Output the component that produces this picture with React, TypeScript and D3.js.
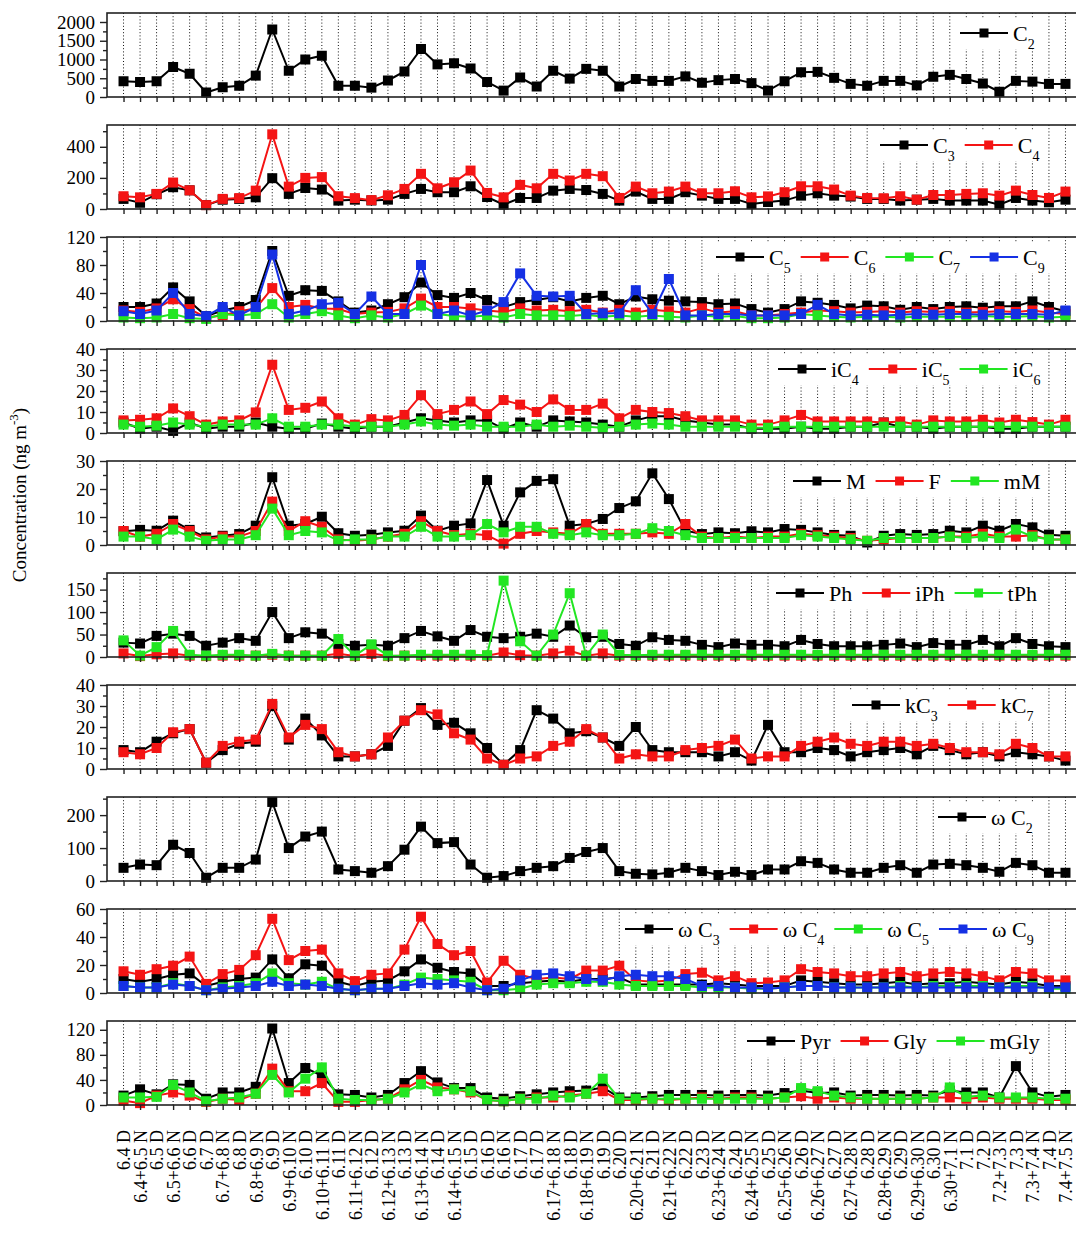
import React, { useRef, useEffect } from "react";
import * as d3 from "d3";

// sampling periods (D = day, N = night)
const categories = [
  "6.4 D", "6.4+6.5 N", "6.5 D", "6.5+6.6 N", "6.6 D", "6.7 D", "6.7+6.8 N", "6.8 D",
  "6.8+6.9 N", "6.9 D", "6.9+6.10 N", "6.10 D", "6.10+6.11 N", "6.11 D", "6.11+6.12 N",
  "6.12 D", "6.12+6.13 N", "6.13 D", "6.13+6.14 N", "6.14 D", "6.14+6.15 N", "6.15 D",
  "6.16 D", "6.16 N", "6.17 D", "6.17 D", "6.17+6.18 N", "6.18 D", "6.18+6.19 N", "6.19 D",
  "6.20 D", "6.20+6.21 N", "6.21 D", "6.21+6.22 N", "6.22 D", "6.23 D", "6.23+6.24 N",
  "6.24 D", "6.24+6.25 N", "6.25 D", "6.25+6.26 N", "6.26 D", "6.26+6.27 N", "6.27 D",
  "6.27+6.28 N", "6.28 D", "6.28+6.29 N", "6.29 D", "6.29+6.30 N", "6.30 D", "6.30+7.1 N",
  "7.1 D", "7.2 D", "7.2+7.3 N", "7.3 D", "7.3+7.4 N", "7.4 D", "7.4+7.5 N",
];

// panel 1
const c2 = [420,400,420,800,620,120,260,300,570,1800,700,1000,1100,300,300,250,440,680,1280,870,900,760,400,170,520,280,700,490,750,700,280,480,430,430,550,380,450,480,370,170,420,660,670,510,350,300,430,430,310,540,590,480,360,140,430,410,350,350];
// panel 2
const c3 = [65,40,95,140,120,25,60,65,75,198,97,135,125,54,60,55,60,97,129,108,108,146,77,28,71,71,118,129,122,97,54,112,65,65,108,86,65,65,32,45,54,86,101,86,80,65,65,54,60,65,54,54,54,28,71,54,43,60];
const c4 = [82,75,97,170,120,25,65,70,118,480,144,200,205,82,70,57,88,129,226,133,172,247,103,75,155,133,226,183,226,211,71,144,101,112,144,101,101,114,75,81,108,146,146,125,86,71,69,82,60,90,90,97,101,86,118,90,71,112];
// panel 3
const c5 = [20,20,25,48,28,7,15,20,30,100,36,44,43,28,12,15,24,34,55,37,33,40,30,20,27,30,34,28,33,36,24,35,31,29,28,27,24,25,17,12,17,28,26,23,18,22,21,16,20,17,20,21,19,21,21,28,20,14];
const c6 = [15,13,18,31,17,5,8,14,18,47,20,23,18,17,10,12,13,18,32,20,20,18,15,13,18,15,16,14,16,12,16,12,16,14,12,18,12,14,8,8,10,12,15,14,12,13,14,12,14,13,14,12,13,14,13,15,12,10];
const c7 = [5,4,5,10,4,3,10,8,10,24,5,10,14,8,4,8,5,10,22,10,7,6,8,5,10,8,8,7,9,6,8,6,8,6,5,8,6,7,4,4,5,10,8,6,5,6,6,5,6,6,6,6,7,6,6,7,5,6];
const c9 = [14,10,15,40,10,7,20,8,20,95,10,15,24,26,10,35,10,10,80,10,15,8,15,27,68,36,35,36,10,11,11,44,10,60,8,8,10,10,8,8,8,10,23,10,8,9,8,9,10,9,10,10,9,10,10,10,9,15];
// panel 4
const ic4 = [5,2,3,1,5,2,3,3,5,3,2,2,4.5,3,2,3,3,5,7,6,5,6,6,2,5,3,6,5.5,5,4,3,6,8,8,6,5,4,4,2,2,2,3,2,2,3,3,5,3,3,2,3,3,3,2,2,3,3,3];
const ic5 = [6,6.3,7,11.7,8,4,5.5,6,9.8,32.5,11,12,15,7,4,6.6,6,8.6,18,9,11,15,9,15.7,13.5,10,16,11,11,14,7,11,10,9.5,8,6,6,6,4,4,6,8.6,5.5,5.5,5.5,5.5,5,5.5,4,6,5.5,5.5,6.3,5,6.3,5.2,4,6.3];
const ic6 = [4,3,3.5,5,4,3,4,4,4,7,3,3,4,4,3,3,3,4,5.5,4,3.5,4,3,3,3,4,3,3.5,3,2.5,3,4,4.5,4,3,3,3,3,2.5,2.5,3,3,3,3,3,3,3,3,3,3,3,3,3,3,3,3,3,3];
// panel 5
const mAcid = [4.9,5.4,5.1,8.7,5.4,2.7,3.3,3.9,6.9,24.2,6.9,7.5,10.1,4.2,3.3,3.7,4.5,5.1,10.5,5.1,6.9,7.7,23.2,6.9,18.8,22.9,23.5,6.9,7.5,9.3,13.2,15.6,25.6,16.4,5.1,3.9,4.5,4.2,4.9,4.5,5.7,5.4,4.5,3.6,3.3,0.9,3.3,3.9,3.6,3.9,5.1,4.5,6.9,5.1,7.5,6.3,3.7,3.3];
const fAcid = [5,3,4,7.5,5,2,3,3,5,15.5,5,8.5,6.5,2,1.5,2,3,4,8.5,5,3.5,4,3.5,0.5,4,5,4.5,4,7.5,4,4,4,4.5,4,7.5,3,2.5,3,2.5,3,3,4,3.5,3,2.5,1.5,2,2.5,2.5,2.5,3,3,4,3,3,3.5,2,2];
const mmAcid = [3,3,2,5.5,3,1.5,2,2,3.5,13,3.5,5,4.5,1.5,2,2,3,3,6.5,3,3,3.5,7.5,4.5,6.5,6.5,4,3.5,4.5,3.5,3.5,4,6,5,3.5,2.5,2.5,2.5,2.5,2.5,2.5,3.5,3,2.5,2,1.5,2.5,2.5,2.5,2.5,3,2.5,3,2.5,5.5,3,2,2];
// panel 6
const ph = [32,30,47,52,47,25,32,42,36,100,42,55,52,29,25,27,25,42,58,46,36,60,45,42,45,52,45,70,44,45,29,25,44,38,36,27,22,30,27,27,24,38,29,24,24,24,27,30,22,31,27,27,38,24,42,29,24,22];
const iph = [8,2,6,8,3,2,3,3,3,5,3,3,3,7,2,7,2,3,3,3,3,3,3,10,4,3,8,14,3,8,3,3,3,3,3,3,3,3,3,3,3,3,3,3,3,3,3,3,3,3,3,3,3,3,3,3,3,3];
const tph = [37,3,22,58,5,3,5,5,3,7,3,3,3,40,3,28,3,3,5,5,5,5,4,170,35,3,50,142,3,50,5,4,5,5,5,5,5,5,5,5,5,5,5,5,5,5,5,5,5,5,5,5,5,5,5,5,5,5];
// panel 7
const kc3 = [9,8,13,17,19,3,9,12,13,30,14,24,16,6,6,7,11,23,29,21,22,17,10,2,9,28,24,17,18,15,11,20,9,8,8,8,6,8,4,21,8,8,10,9,6,8,9,10,7,11,9,7,8,6,8,7,6,4];
const kc7 = [8,7,10,17.5,19,3,11,13,14,31,15,21,19,8,6,7,15,23,28,26,17,14,5,2,5,6,11,13,19,15,5,7,6,6,9,10,11,14,5,6,6,11,13,15,12,11,13,13,11,12,10,8,8,7,12,10,6,6];
// panel 8
const wc2 = [40,50,48,110,85,10,40,40,65,240,100,135,150,35,30,25,45,95,165,115,118,50,10,15,30,40,45,70,88,100,30,22,20,25,40,30,18,28,18,35,35,60,55,35,25,25,40,48,25,50,52,48,40,28,55,48,25,25];
// panel 9
const wc3 = [10,8,10,13,14,5,8,10,11,24,10.5,20.5,19.5,8,5,8,9,15.5,24,18,15,14,5,5,7,8,9,8,10,10,11,6,6,6,6,6,7,6,5,5,5,9,8,7,6,6,7,8,6,7,7,8,7,6,8,7,5,5];
const wc4 = [15.5,13,17,19.5,26,6.5,13.5,16.5,27,53,23.5,30,31,14,8.5,13,14,31,54.5,35,27,30,7.5,23,13,10,11,10,16,16,19.5,9,8,9,13.5,14.5,9,12,7,7.5,9,17,15,14,12,12,14,15,12,14,15,14,12,9,15,14,9,9];
const wc5 = [5,4,4,7,5,2,4,5,7,14,7,6,8,3,2,3,3,6,11,10,9,8,2,2,3,6,7,7,8,8,6,5,5,5,5,4,4,4,3,3,4,5,5,4,4,4,4,5,4,5,5,5,5,4,5,5,3,3];
const wc9 = [5,4,4,6,5,2,3,4,5,8,5,6,5,3,2,3,3,5,7,6,7,4,2,3,9,13,14,12,10,9,12,13,12,12,10,5,5,4,4,3,4,5,5,4,4,4,4,4,4,4,4,4,4,4,4,4,4,4];
// panel 10
const pyr = [15,25,17,33,32,10,20,20,29,122,35,59,47,17,16,12,16,35,54,36,27,27,12,10,14,17,20,22,23,28,12,12,14,16,16,16,15,16,16,15,19,23,19,20,15,16,16,15,16,15,23,20,20,12,62,20,13,16];
const gly = [7,3,15,20,15,5,10,8,18,58,22,22,35,5,5,8,10,25,40,28,25,20,8,6,10,12,12,15,18,22,8,8,10,8,10,12,10,12,12,10,12,14,10,12,10,10,10,10,10,12,12,10,12,10,10,10,8,8];
const mgly = [12,12,13,32,20,6,10,12,18,48,20,42,60,10,8,8,10,20,33,22,25,22,8,6,10,10,15,12,18,42,10,10,10,10,10,10,10,10,10,10,12,27,22,15,12,10,10,10,10,12,28,13,15,12,12,12,10,10];

// y tick labels per panel
const ticks1 = [0, 500, 1000, 1500, 2000];
const ticks2 = [0, 200, 400];
const ticks3 = [0, 40, 80, 120];
const ticks4 = [0, 10, 20, 30, 40];
const ticks5 = [0, 10, 20, 30];
const ticks6 = [0, 50, 100, 150];
const ticks7 = [0, 10, 20, 30, 40];
const ticks8 = [0, 100, 200];
const ticks9 = [0, 20, 40, 60];
const ticks10 = [0, 40, 80, 120];

const BLACK = "#000000";
const RED = "#f41414";
const GREEN = "#22e622";
const BLUE = "#1530e4";
const FONT = "'Liberation Serif', 'Times New Roman', serif";

const panels = [
  { max: 2240, ticks: ticks1, minor: 250, legendX: 960, series: [
    { label: "C", sub: "2", color: BLACK, values: c2 }] },
  { max: 540, ticks: ticks2, minor: 100, legendX: 880, series: [
    { label: "C", sub: "3", color: BLACK, values: c3 },
    { label: "C", sub: "4", color: RED, values: c4 }] },
  { max: 120, ticks: ticks3, minor: 20, legendX: 716, series: [
    { label: "C", sub: "5", color: BLACK, values: c5 },
    { label: "C", sub: "6", color: RED, values: c6 },
    { label: "C", sub: "7", color: GREEN, values: c7 },
    { label: "C", sub: "9", color: BLUE, values: c9 }] },
  { max: 40, ticks: ticks4, minor: 5, legendX: 778, series: [
    { label: "iC", sub: "4", color: BLACK, values: ic4 },
    { label: "iC", sub: "5", color: RED, values: ic5 },
    { label: "iC", sub: "6", color: GREEN, values: ic6 }] },
  { max: 30, ticks: ticks5, minor: 5, legendX: 793, series: [
    { label: "M", sub: "", color: BLACK, values: mAcid },
    { label: "F", sub: "", color: RED, values: fAcid },
    { label: "mM", sub: "", color: GREEN, values: mmAcid }] },
  { max: 187, ticks: ticks6, minor: 25, legendX: 776, series: [
    { label: "Ph", sub: "", color: BLACK, values: ph },
    { label: "iPh", sub: "", color: RED, values: iph },
    { label: "tPh", sub: "", color: GREEN, values: tph }] },
  { max: 40, ticks: ticks7, minor: 5, legendX: 852, series: [
    { label: "kC", sub: "3", color: BLACK, values: kc3 },
    { label: "kC", sub: "7", color: RED, values: kc7 }] },
  { max: 255, ticks: ticks8, minor: 50, legendX: 938, series: [
    { label: "ω C", sub: "2", color: BLACK, values: wc2 }] },
  { max: 60, ticks: ticks9, minor: 10, legendX: 625, series: [
    { label: "ω C", sub: "3", color: BLACK, values: wc3 },
    { label: "ω C", sub: "4", color: RED, values: wc4 },
    { label: "ω C", sub: "5", color: GREEN, values: wc5 },
    { label: "ω C", sub: "9", color: BLUE, values: wc9 }] },
  { max: 134, ticks: ticks10, minor: 20, legendX: 747, series: [
    { label: "Pyr", sub: "", color: BLACK, values: pyr },
    { label: "Gly", sub: "", color: RED, values: gly },
    { label: "mGly", sub: "", color: GREEN, values: mgly }] },
];

const App = () => {
  const svgRef = useRef<SVGSVGElement>(null);

  useEffect(() => {
    const svg = d3.select(svgRef.current);
    svg.selectAll("*").remove();

    const left = 107;
    const right = 1082;
    const firstTop = 13;
    const panelStep = 112;
    const panelH = 84;

    // index based, because "6.17 D" appears twice in the sample list
    const idx = d3.range(categories.length);
    const x = d3.scalePoint<number>().domain(idx).range([left, right]).padding(1);

    panels.forEach((p, k) => {
      const top = firstTop + k * panelStep;
      const bottom = top + panelH;
      const y = d3.scaleLinear().domain([0, p.max]).range([bottom, top]);
      const g = svg.append("g");

      // dotted vertical grid at every sample
      g.append("g")
        .selectAll("line")
        .data(idx)
        .join("line")
        .attr("x1", (d) => x(d)!)
        .attr("x2", (d) => x(d)!)
        .attr("y1", top)
        .attr("y2", bottom)
        .attr("stroke", "#111")
        .attr("stroke-width", 1)
        .attr("stroke-dasharray", "1,2.2");

      const legendBg = g.append("g");

      // series: line + square markers
      p.series.forEach((s) => {
        const line = d3
          .line<number>()
          .x((d, i) => x(i)!)
          .y((d) => y(d));
        g.append("path")
          .datum(s.values)
          .attr("d", line)
          .attr("fill", "none")
          .attr("stroke", s.color)
          .attr("stroke-width", 2);
        g.append("g")
          .selectAll("rect")
          .data(s.values)
          .join("rect")
          .attr("x", (d, i) => x(i)! - 5)
          .attr("y", (d) => y(d) - 5)
          .attr("width", 10)
          .attr("height", 10)
          .attr("fill", s.color);
      });

      // legend
      const lg = g.append("g").attr("font-family", FONT);
      const ly = top + 20;
      let cx = p.legendX;
      p.series.forEach((s) => {
        lg.append("line")
          .attr("x1", cx).attr("x2", cx + 48)
          .attr("y1", ly).attr("y2", ly)
          .attr("stroke", s.color).attr("stroke-width", 2);
        lg.append("rect")
          .attr("x", cx + 24 - 4.5).attr("y", ly - 4.5)
          .attr("width", 9).attr("height", 9)
          .attr("fill", s.color);
        const t = lg.append("text")
          .attr("x", cx + 53)
          .attr("y", ly + 7.5)
          .attr("font-size", 22)
          .attr("fill", "#000");
        t.append("tspan").text(s.label);
        if (s.sub) t.append("tspan").attr("font-size", 14).attr("dy", 8).text(s.sub);
        const len = (t.node() as SVGTextElement).getComputedTextLength();
        cx = cx + 53 + len + 10;
      });
      legendBg.append("rect")
        .attr("x", p.legendX - 4)
        .attr("y", ly - 14)
        .attr("width", cx - p.legendX)
        .attr("height", 30)
        .attr("fill", "#fff");

      // y axis: major + minor ticks
      const minorVals = d3.range(0, p.max, p.minor).filter((v) => !p.ticks.includes(v));
      const yMinor = g.append("g")
        .attr("transform", `translate(${left},0)`)
        .call(d3.axisLeft(y).tickValues(minorVals).tickSize(4).tickFormat(() => ""));
      const yMajor = g.append("g")
        .attr("transform", `translate(${left},0)`)
        .call(d3.axisLeft(y).tickValues(p.ticks).tickSize(7).tickPadding(5).tickFormat(d3.format("d")));
      [yMinor, yMajor].forEach((a) => {
        a.select(".domain").remove();
        a.selectAll("line").attr("stroke", "#222").attr("stroke-width", 1.4);
      });
      yMajor.selectAll("text")
        .attr("font-family", FONT)
        .attr("font-size", 19)
        .attr("fill", "#000");

      // x axis ticks
      const isLast = k === panels.length - 1;
      const xAx = g.append("g")
        .attr("transform", `translate(0,${bottom})`)
        .call(d3.axisBottom(x).tickSize(5).tickFormat((i) => (isLast ? categories[i as number] : "")));
      xAx.select(".domain").remove();
      xAx.selectAll("line").attr("stroke", "#222").attr("stroke-width", 1.4);
      if (isLast) {
        xAx.selectAll("text")
          .attr("font-family", FONT)
          .attr("font-size", 18)
          .attr("fill", "#000")
          .attr("transform", "rotate(-90)")
          .attr("text-anchor", "end")
          .attr("x", -25)
          .attr("y", 0)
          .attr("dy", "0.35em");
      } else {
        xAx.selectAll("text").remove();
      }

      // frame
      g.append("rect")
        .attr("x", left).attr("y", top)
        .attr("width", right - left).attr("height", panelH)
        .attr("fill", "none")
        .attr("stroke", "#222")
        .attr("stroke-width", 1.6);
    });

    // y axis title
    const title = svg.append("text")
      .attr("transform", "translate(26,495) rotate(-90)")
      .attr("text-anchor", "middle")
      .attr("font-family", FONT)
      .attr("font-size", 19)
      .attr("fill", "#000");
    title.append("tspan").text("Concentration (ng m");
    title.append("tspan").attr("font-size", 13).attr("dy", -8).text("-3");
    title.append("tspan").attr("dy", 8).text(")");
  }, []);

  return (
    <svg
      ref={svgRef}
      width={1076}
      height={1236}
      style={{ position: "absolute", left: 0, top: 0, display: "block", background: "#fff" }}
    />
  );
};

export default App;
